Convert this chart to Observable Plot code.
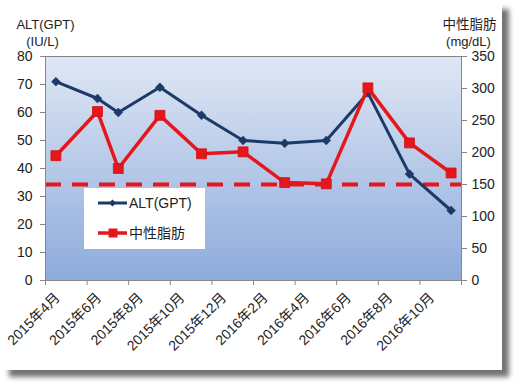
<!DOCTYPE html>
<html><head><meta charset="utf-8">
<script src="https://cdn.jsdelivr.net/npm/d3@7"></script>
<script src="https://cdn.jsdelivr.net/npm/@observablehq/plot@0.6"></script>
<style>
body{margin:0;background:#fff;}
#wrap{position:relative;width:518px;height:390px;overflow:hidden;}
#card{position:absolute;left:2px;top:2px;width:500px;height:368px;background:#fff;box-shadow:7px 7px 5px rgba(0,0,0,0.55);}
#chart{position:absolute;left:0;top:0;}
#legend{position:absolute;left:84px;top:188px;width:121px;height:61px;background:#fff;}
#legend svg{display:block;}
</style></head><body>
<div id="wrap"><div id="card"></div><div id="chart"></div><div id="legend"></div></div>
<script>
// ---- data ----
const months = ["2015-04","2015-06","2015-07","2015-09","2015-11","2016-01","2016-03","2016-05","2016-07","2016-09","2016-11"];
const altValues = [71, 65, 60, 69, 59, 50, 49, 50, 67, 38, 25];
const tgValues = [195, 264, 175, 258, 198, 201, 153, 151, 301, 215, 168];
const tgThreshold = 150;
const xTickMonths = ["2015-04","2015-06","2015-08","2015-10","2015-12","2016-02","2016-04","2016-06","2016-08","2016-10","2016-12"];
const xTickLabels = ["2015年4月","2015年6月","2015年8月","2015年10月","2015年12月","2016年2月","2016年4月","2016年6月","2016年8月","2016年10月",""];
const leftTicks = [0, 10, 20, 30, 40, 50, 60, 70, 80];
const rightTicks = [0, 50, 100, 150, 200, 250, 300, 350];
const seriesNames = ["ALT(GPT)", "中性脂肪"];
const leftTitle = ["ALT(GPT)", "(IU/L)"];
const rightTitle = ["中性脂肪", "(mg/dL)"];

// ---- derived ----
const leftMax = 80, rightMax = 350;
const k = leftMax / rightMax;
const monthIndex = s => { const [y, m] = s.split("-").map(Number); return (y - 2015) * 12 + (m - 4); };
const data = months.map((m, i) => ({x: monthIndex(m) + 0.5, alt: altValues[i], tg: tgValues[i] * k}));
const xTickPos = xTickMonths.map(monthIndex);
const xLabelData = xTickPos.map((p, i) => ({x: p, label: xTickLabels[i]})).filter(d => d.label);

const NAVY = "#1b3a66", RED = "#e5161c", AXIS = "#868686", TEXT = "#222";
const FONT = "'Liberation Sans', 'Noto Sans CJK JP', sans-serif";

const chart = Plot.plot({
  width: 518, height: 390,
  marginLeft: 45, marginRight: 57, marginTop: 56, marginBottom: 110,
  style: {fontFamily: FONT, fontSize: "14px", color: TEXT, background: "transparent", overflow: "visible"},
  x: {type: "linear", domain: [0, monthIndex("2016-12")]},
  y: {domain: [0, leftMax]},
  marks: [
    Plot.frame({fill: "url(#bgGrad)", stroke: "none"}),
    Plot.ruleY([tgThreshold * k], {stroke: RED, strokeWidth: 4, strokeDasharray: "16,11"}),
    Plot.line(data, {x: "x", y: "alt", stroke: NAVY, strokeWidth: 3}),
    Plot.dot(data, {x: "x", y: "alt", symbol: "diamond2", r: 4, fill: NAVY, stroke: NAVY, strokeWidth: 0.5}),
    Plot.line(data, {x: "x", y: "tg", stroke: RED, strokeWidth: 3.5}),
    Plot.dot(data, {x: "x", y: "tg", symbol: "square", r: 5.6, fill: RED, stroke: "#d41015", strokeWidth: 0.8}),
    Plot.frame({stroke: AXIS, strokeWidth: 1}),
    Plot.axisY(leftTicks, {anchor: "left", tickSize: 5, tickPadding: 8, stroke: AXIS, fill: TEXT, label: null}),
    Plot.axisY(rightTicks.map(v => v * k), {anchor: "right", tickSize: 5, tickPadding: 5, stroke: AXIS, fill: TEXT, label: null,
      tickFormat: d => String(Math.round(d / k))}),
    Plot.axisX(xTickPos, {anchor: "bottom", tickSize: 5, stroke: AXIS, label: null, tickFormat: () => ""}),
    Plot.text(xLabelData, {x: "x", text: "label", frameAnchor: "bottom", rotate: -45, textAnchor: "end",
      lineAnchor: "middle", dx: 12, dy: 15, fill: TEXT}),
    Plot.text([leftTitle[0]], {frameAnchor: "top-left", textAnchor: "middle", dy: -37, fill: TEXT, fontSize: 13}),
    Plot.text([leftTitle[1]], {frameAnchor: "top-left", textAnchor: "middle", dx: -3, dy: -20, fill: TEXT, fontSize: 13}),
    Plot.text([rightTitle[0]], {frameAnchor: "top-right", textAnchor: "middle", dx: 8, dy: -37, fill: TEXT, fontSize: 13.5}),
    Plot.text([rightTitle[1]], {frameAnchor: "top-right", textAnchor: "middle", dx: 7, dy: -20, fill: TEXT, fontSize: 13})
  ]
});
d3.select(chart).insert("defs", ":first-child").html(
  `<linearGradient id="bgGrad" x1="0" y1="0" x2="0" y2="1">
     <stop offset="0" stop-color="#dfe7f4"/><stop offset="1" stop-color="#8dabdc"/>
   </linearGradient>`);
document.getElementById("chart").appendChild(chart);

// ---- legend ----
const lg = d3.select("#legend").append("svg").attr("width", 121).attr("height", 61)
  .style("font-family", FONT).style("font-size", "14px");
const legendItems = [{name: seriesNames[0], color: NAVY, sym: "diamond"}, {name: seriesNames[1], color: RED, sym: "square"}];
legendItems.forEach((it, i) => {
  const y = 15 + i * 30;
  lg.append("line").attr("x1", 14).attr("x2", 43).attr("y1", y).attr("y2", y).attr("stroke", it.color).attr("stroke-width", it.sym === "square" ? 3.5 : 3);
  if (it.sym === "diamond") {
    lg.append("path").attr("d", `M28.5,${y-3.5}L32,${y}L28.5,${y+3.5}L25,${y}Z`).attr("fill", it.color);
  } else {
    lg.append("rect").attr("x", 24.5).attr("y", y - 4.5).attr("width", 9).attr("height", 9).attr("fill", it.color);
  }
  lg.append("text").attr("x", 45).attr("y", y).attr("dy", "0.36em").attr("fill", TEXT).text(it.name);
});
</script>
</body></html>
